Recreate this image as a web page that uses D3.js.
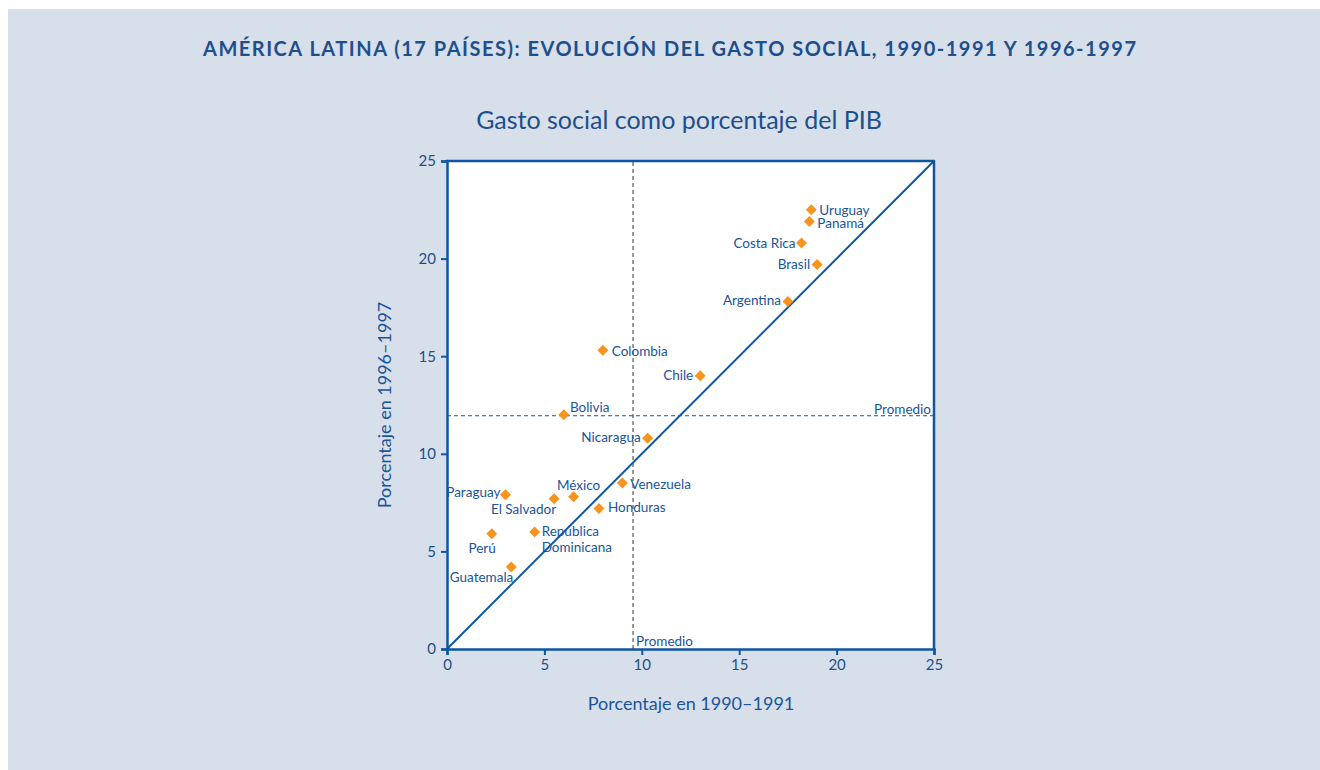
<!DOCTYPE html>
<html>
<head>
<meta charset="utf-8">
<script src="https://cdn.jsdelivr.net/npm/d3@7"></script>
<style>
  body { margin: 0; background: #fff; }
  svg text { font-family: Lato, "Open Sans", sans-serif; }
</style>
</head>
<body>
<div id="chart"></div>
<script>
const countries = ["Uruguay", "Panamá", "Costa Rica", "Brasil", "Argentina", "Colombia", "Chile", "Bolivia",
    "Nicaragua", "Venezuela", "Honduras", "México", "El Salvador", "Paraguay", "República Dominicana", "Perú", "Guatemala"];
const gasto9091 = [18.7, 18.6, 18.2, 19.0, 17.5, 8.0, 13.0, 6.0, 10.3, 9.0, 7.8, 6.5, 5.5, 3.0, 4.5, 2.3, 3.3];
const gasto9697 = [22.5, 21.9, 20.8, 19.7, 17.8, 15.3, 14.0, 12.0, 10.8, 8.5, 7.2, 7.8, 7.7, 7.9, 6.0, 5.9, 4.2];
const promedio9091 = 9.55;
const promedio9697 = 11.95;
const ticks = [0, 5, 10, 15, 20, 25];

// where each label sits relative to its marker
const labelPlace = {
    "Uruguay": [8, 0, "start"],
    "Panamá": [8, 2, "start"],
    "Costa Rica": [-6, 0, "end"],
    "Brasil": [-7, 0, "end"],
    "Argentina": [-7, -1, "end"],
    "Colombia": [9, 1, "start"],
    "Chile": [-7, 0, "end"],
    "Bolivia": [6, -7, "start"],
    "Nicaragua": [-7, -1, "end"],
    "Venezuela": [8, 1, "start"],
    "Honduras": [9, -1, "start"],
    "México": [5, -11, "middle"],
    "El Salvador": [2, 11, "end"],
    "Paraguay": [-5, -3, "end"],
    "República Dominicana": [7, -1, "start"],
    "Perú": [4, 14, "end"],
    "Guatemala": [2, 10, "end"]
};

const points = countries.map((c, i) => ({name: c, x: gasto9091[i], y: gasto9697[i]}));

const width = 1320, height = 770;
const blue = "#1a5599", dark = "#1d4f8b";

const svg = d3.select("#chart").append("svg")
    .attr("width", width)
    .attr("height", height);

svg.append("rect")
    .attr("x", 8).attr("y", 9)
    .attr("width", width - 8).attr("height", height - 9)
    .attr("fill", "#d7dfeb");

svg.append("text")
    .attr("x", 203).attr("y", 56)
    .attr("textLength", 933)
    .attr("lengthAdjust", "spacing")
    .attr("fill", dark)
    .style("font-size", "20px")
    .style("font-weight", "bold")
    .text("AMÉRICA LATINA (17 PAÍSES): EVOLUCIÓN DEL GASTO SOCIAL, 1990-1991 Y 1996-1997");

svg.append("text")
    .attr("x", 679).attr("y", 129)
    .attr("text-anchor", "middle")
    .attr("fill", dark)
    .style("font-size", "25px")
    .text("Gasto social como porcentaje del PIB");

const x = d3.scaleLinear().domain([0, 25]).range([447, 934]);
const y = d3.scaleLinear().domain([0, 25]).range([649, 161]);

// plot box
svg.append("rect")
    .attr("x", x(0)).attr("y", y(25))
    .attr("width", x(25) - x(0)).attr("height", y(0) - y(25))
    .attr("fill", "#fff");

// average lines
svg.append("line")
    .attr("x1", x(promedio9091)).attr("x2", x(promedio9091))
    .attr("y1", y(0)).attr("y2", y(25))
    .attr("stroke", "#333").attr("stroke-width", 1)
    .attr("stroke-dasharray", "4,3");

svg.append("line")
    .attr("x1", x(0)).attr("x2", x(25))
    .attr("y1", y(promedio9697)).attr("y2", y(promedio9697))
    .attr("stroke", blue).attr("stroke-width", 1)
    .attr("stroke-dasharray", "4,3");

svg.append("text")
    .attr("x", x(promedio9091) + 3).attr("y", y(0) - 3)
    .attr("fill", blue).style("font-size", "13.5px")
    .text("Promedio");

svg.append("text")
    .attr("x", x(25) - 3).attr("y", y(promedio9697) - 2)
    .attr("text-anchor", "end")
    .attr("fill", blue).style("font-size", "13.5px")
    .text("Promedio");

// 45 degree line
svg.append("line")
    .attr("x1", x(0)).attr("y1", y(0))
    .attr("x2", x(25)).attr("y2", y(25))
    .attr("stroke", "#0e56a4").attr("stroke-width", 2);

// axes
const xAxis = svg.append("g")
    .attr("transform", `translate(0, ${y(0)})`)
    .call(d3.axisBottom(x).tickValues(ticks).tickSize(6).tickPadding(4));
const yAxis = svg.append("g")
    .attr("transform", `translate(${x(0)}, 0)`)
    .call(d3.axisLeft(y).tickValues(ticks).tickSize(6).tickPadding(5));

[xAxis, yAxis].forEach(g => {
    g.select(".domain").attr("stroke", "#0e56a4").attr("stroke-width", 2.5);
    g.selectAll(".tick line").attr("stroke", "#0e56a4").attr("stroke-width", 2);
    g.selectAll(".tick text")
        .attr("fill", dark)
        .style("font-size", "15px")
        .style("font-family", "Lato, sans-serif");
});

svg.append("line")
    .attr("x1", x(0) - 1).attr("x2", x(25) + 1)
    .attr("y1", y(25)).attr("y2", y(25))
    .attr("stroke", "#0e56a4").attr("stroke-width", 2.5);
svg.append("line")
    .attr("x1", x(25)).attr("x2", x(25))
    .attr("y1", y(25)).attr("y2", y(0))
    .attr("stroke", "#0e56a4").attr("stroke-width", 2.5);

// axis titles
svg.append("text")
    .attr("x", 691).attr("y", 710)
    .attr("text-anchor", "middle")
    .attr("fill", blue)
    .style("font-size", "18px")
    .text("Porcentaje en 1990–1991");

svg.append("text")
    .attr("transform", `translate(391, ${405}) rotate(-90)`)
    .attr("text-anchor", "middle")
    .attr("fill", blue)
    .style("font-size", "18px")
    .text("Porcentaje en 1996–1997");

// markers
svg.append("g")
    .selectAll("path")
    .data(points)
    .enter()
    .append("path")
    .attr("transform", d => `translate(${x(d.x)}, ${y(d.y)}) rotate(45)`)
    .attr("d", d3.symbol(d3.symbolSquare, 60))
    .attr("fill", "#f7941d");

// labels
const labels = svg.append("g")
    .selectAll("text")
    .data(points)
    .enter()
    .append("text")
    .attr("x", d => x(d.x) + labelPlace[d.name][0])
    .attr("y", d => y(d.y) + labelPlace[d.name][1])
    .attr("dy", "0.35em")
    .attr("text-anchor", d => labelPlace[d.name][2])
    .attr("fill", blue)
    .style("font-size", "13.5px");

labels.each(function(d) {
    const t = d3.select(this);
    if (d.name === "República Dominicana") {
        t.append("tspan").text("República");
        t.append("tspan").attr("x", x(d.x) + labelPlace[d.name][0]).attr("dy", "1.2em").text("Dominicana");
    } else {
        t.text(d.name);
    }
});
</script>
</body>
</html>
